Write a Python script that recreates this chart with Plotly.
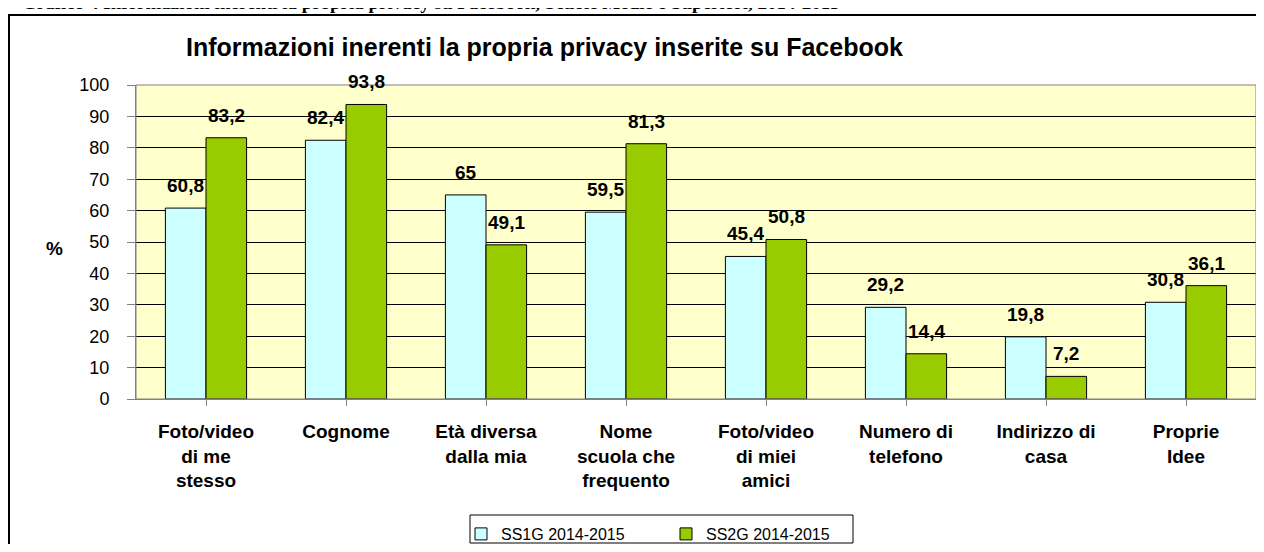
import plotly.graph_objects as go

# dati del grafico
categorie = [
    "Foto/video<br>di me<br>stesso",
    "Cognome",
    "Età diversa<br>dalla mia",
    "Nome<br>scuola che<br>frequento",
    "Foto/video<br>di miei<br>amici",
    "Numero di<br>telefono",
    "Indirizzo di<br>casa",
    "Proprie<br>Idee",
]
ss1g = [60.8, 82.4, 65, 59.5, 45.4, 29.2, 19.8, 30.8]
ss2g = [83.2, 93.8, 49.1, 81.3, 50.8, 14.4, 7.2, 36.1]
serie_nomi = ["SS1G 2014-2015", "SS2G 2014-2015"]
y_ticks = list(range(0, 101, 10))

FONT = "Liberation Sans, Arial, sans-serif"
# la pagina ha 8px di margine: la figura parte da (8, 8)
OFF = 8
W, H = 1264 - 2 * OFF, 552 - 2 * OFF
ML, MR, MT, MB = 128, 0, 77, 145
plot_w = W - ML - MR
plot_h = H - MT - MB


def px_x(px):
    # px = coordinata nella finestra
    return (px - OFF - ML) / plot_w


def px_y(py):
    return (H - MB - (py - OFF)) / plot_h


def etichetta(v):
    return f"{v:g}".replace(".", ",")


bargap = 0.42
idx = list(range(len(categorie)))

fig = go.Figure()
fig.add_trace(go.Bar(x=idx, y=ss1g, name=serie_nomi[0],
                     marker=dict(color="#CCFFFF", line=dict(color="#000000", width=1))))
fig.add_trace(go.Bar(x=idx, y=ss2g, name=serie_nomi[1],
                     marker=dict(color="#99CC00", line=dict(color="#000000", width=1))))

# etichette dei valori sopra le barre
off = (1 - bargap) / 4
annotazioni = []
for serie, dx in ((ss1g, -off), (ss2g, off)):
    for i, v in enumerate(serie):
        annotazioni.append(dict(x=i + dx, y=v, xref="x", yref="y", text=f"<b>{etichetta(v)}</b>",
                                showarrow=False, yanchor="bottom", yshift=10,
                                font=dict(family=FONT, size=19, color="#000000")))

# titolo interno, "%" e didascalia in alto
annotazioni.append(dict(x=px_x(544), y=px_y(47), xref="paper", yref="paper",
                        text="<b>Informazioni inerenti la propria privacy inserite su Facebook</b>",
                        showarrow=False, xanchor="center", yanchor="middle",
                        font=dict(family=FONT, size=25, color="#000000")))
annotazioni.append(dict(x=px_x(55), y=px_y(248), xref="paper", yref="paper",
                        text="<b>%</b>", showarrow=False, xanchor="center", yanchor="middle",
                        font=dict(family=FONT, size=19, color="#000000")))
annotazioni.append(dict(x=px_x(20), y=px_y(15), xref="paper", yref="paper",
                        text="<b>Grafico 4 Informazioni inerenti la propria privacy su Facebook, Scuole Medie e Superiori, 2014-2015</b>",
                        showarrow=False, xanchor="left", yanchor="bottom",
                        font=dict(family="Liberation Serif, Times New Roman, serif", size=19, color="#000000")))

forme = [
    # cornice esterna
    dict(type="rect", xref="paper", yref="paper", x0=px_x(9), x1=px_x(1300),
         y0=px_y(600), y1=px_y(15), line=dict(color="#000000", width=2), layer="below"),
    # bordo area del grafico
    dict(type="rect", xref="paper", yref="paper", x0=0, x1=1, y0=0, y1=1,
         line=dict(color="#808080", width=1)),
    # riquadro della legenda
    dict(type="rect", xref="paper", yref="paper", x0=px_x(470), x1=px_x(853),
         y0=px_y(543), y1=px_y(515), line=dict(color="#000000", width=1),
         fillcolor="#FFFFFF", layer="below"),
]

fig.update_layout(
    width=W, height=H,
    margin=dict(l=ML, r=MR, t=MT, b=MB, autoexpand=False),
    paper_bgcolor="#FFFFFF",
    plot_bgcolor="#FFFFCC",
    barmode="group", bargap=bargap, bargroupgap=0,
    font=dict(family=FONT, size=18, color="#000000"),
    showlegend=True,
    legend=dict(orientation="h", x=px_x(461), y=px_y(517), xanchor="left", yanchor="top",
                borderwidth=0, bgcolor="rgba(0,0,0,0)",
                font=dict(family=FONT, size=16, color="#000000"),
                entrywidth=160, entrywidthmode="pixels"),
    annotations=annotazioni,
    shapes=forme,
)

fig.update_xaxes(
    tickmode="array", tickvals=idx, ticktext=[f"<b>{c}</b>" for c in categorie],
    range=[-0.5, len(categorie) - 0.5],
    showline=True, linecolor="#808080", linewidth=1,
    ticks="outside", ticklen=6, tickcolor="#808080",
    showgrid=False, zeroline=False, ticklabelstandoff=9,
    tickfont=dict(family=FONT, size=19, color="#000000"),
)
fig.update_yaxes(
    range=[0, 100], tickvals=y_ticks,
    showline=True, linecolor="#808080", linewidth=1,
    ticks="outside", ticklen=8, tickcolor="#808080",
    showgrid=True, gridcolor="#000000", gridwidth=1, zeroline=False,
    ticklabelstandoff=14,
    tickfont=dict(family=FONT, size=18, color="#000000"),
)

fig.write_html("out.html")
